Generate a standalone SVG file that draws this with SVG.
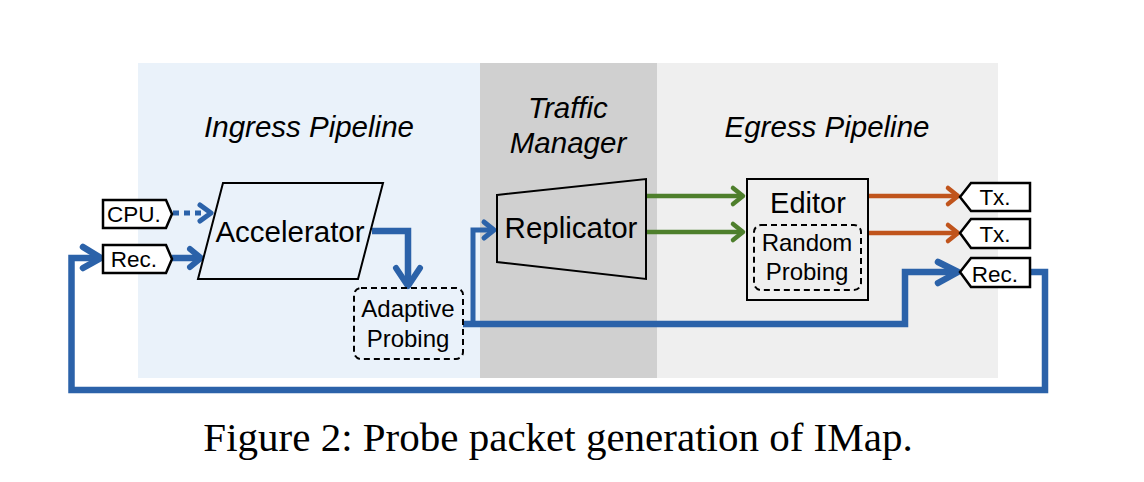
<svg xmlns="http://www.w3.org/2000/svg" width="1144" height="482" viewBox="0 0 1144 482">
<style>
.t{font-family:"Liberation Sans",Arial,sans-serif;fill:#000;text-anchor:middle}
.ti{font-family:"Liberation Sans",Arial,sans-serif;font-style:italic;fill:#000;text-anchor:middle;font-size:29.5px}
.lbl{fill:#fff;stroke:#000;stroke-width:2.5}
.shp{fill:none;stroke:#000;stroke-width:2}
.dsh{fill:none;stroke:#000;stroke-width:2;stroke-dasharray:6 4}
.bl{fill:none;stroke:#2b62a9;stroke-width:6.5;stroke-linejoin:miter}
.ah{fill:none;stroke-linecap:round;stroke-linejoin:round}
.gr{fill:none;stroke:#4e7f2c;stroke-width:4.5}
.or{fill:none;stroke:#c0541c;stroke-width:4.5}
</style>
<rect width="1144" height="482" fill="#fff"/>
<g id="regions">
<rect x="138" y="63" width="342" height="315" fill="#eaf2fa"/>
<rect x="480" y="63" width="177" height="315" fill="#d0d0d0"/>
<rect x="657" y="63" width="341" height="315" fill="#efefef"/>
<text class="ti" x="309" y="137">Ingress Pipeline</text>
<text class="ti" x="568" y="118">Traffic</text>
<text class="ti" x="568" y="153">Manager</text>
<text class="ti" x="827" y="137">Egress Pipeline</text>
</g>
<g id="connectors">
<line x1="173" y1="213" x2="204" y2="213" stroke="#2b62a9" stroke-width="5" stroke-dasharray="6 5"/>
<polyline class="ah" stroke="#2b62a9" stroke-width="5" points="200,205 211,213 200,221"/>
<line x1="172" y1="258" x2="199" y2="258" stroke="#2b62a9" stroke-width="6.5"/>
<polyline class="ah" stroke="#2b62a9" stroke-width="6" points="190,249 201,258 190,267"/>
<polyline class="bl" points="372,231 408,231 408,283"/>
<polyline class="ah" stroke="#2b62a9" stroke-width="6" points="396,268 408,286 420,268"/>
<polyline class="bl" points="463,324 905,324 905,272 956,272"/>
<polyline class="ah" stroke="#2b62a9" stroke-width="6.5" points="938,262 958,272 938,283"/>
<polyline fill="none" stroke="#2b62a9" stroke-width="5" points="473,324 473,230 492,230"/>
<polyline class="ah" stroke="#2b62a9" stroke-width="5" points="484,222 494,230 484,238"/>
<polyline class="bl" points="1030,272 1045,272 1045,390 71.5,390 71.5,258 99,258"/>
<polyline class="ah" stroke="#2b62a9" stroke-width="6.5" points="83,247 101,258 83,268"/>
<line class="gr" x1="646" y1="196" x2="741" y2="196"/>
<polyline class="ah" stroke="#4e7f2c" stroke-width="4.5" points="733,188 743,196 733,204"/>
<line class="gr" x1="646" y1="232" x2="741" y2="232"/>
<polyline class="ah" stroke="#4e7f2c" stroke-width="4.5" points="733,224 743,232 733,240"/>
<line class="or" x1="868" y1="196" x2="956" y2="196"/>
<polyline class="ah" stroke="#c0541c" stroke-width="4.5" points="948,188 958,196 948,204"/>
<line class="or" x1="868" y1="233" x2="956" y2="233"/>
<polyline class="ah" stroke="#c0541c" stroke-width="4.5" points="948,225 958,233 948,241"/>
</g>
<g id="cpu">
<polygon class="lbl" points="103,200 166,200 172,214 166,228 103,228"/>
<text class="t" x="134" y="222" font-size="22.5">CPU.</text>
</g>
<g id="rec-in">
<polygon class="lbl" points="103,245 166,245 172,259 166,273 103,273"/>
<text class="t" x="134" y="267" font-size="22.5">Rec.</text>
</g>
<g id="accelerator">
<polygon class="shp" points="223,183 383,183 358,279 198,279"/>
<text class="t" x="290" y="242" font-size="29.5">Accelerator</text>
</g>
<g id="adaptive">
<rect class="dsh" x="354" y="288" width="109" height="71" rx="7"/>
<text class="t" x="408" y="317" font-size="24">Adaptive</text>
<text class="t" x="408" y="347" font-size="24">Probing</text>
</g>
<g id="replicator">
<polygon class="shp" points="497,195 646,179 646,279 497,262"/>
<text class="t" x="571" y="238" font-size="29.5">Replicator</text>
</g>
<g id="editor">
<rect class="shp" x="747" y="179" width="121" height="121" stroke-width="2.5"/>
<text class="t" x="808" y="213" font-size="29">Editor</text>
</g>
<g id="random">
<rect class="dsh" x="754" y="225" width="107" height="65" rx="7"/>
<text class="t" x="807" y="251" font-size="24">Random</text>
<text class="t" x="807" y="280" font-size="24">Probing</text>
</g>
<g id="tx1">
<polygon class="lbl" points="960,197 971,183 1030,183 1030,211 971,211"/>
<text class="t" x="995" y="205" font-size="22.5">Tx.</text>
</g>
<g id="tx2">
<polygon class="lbl" points="960,233 971,219 1030,219 1030,248 971,248"/>
<text class="t" x="995" y="242" font-size="22.5">Tx.</text>
</g>
<g id="rec-out">
<polygon class="lbl" points="960,272 971,258 1030,258 1030,287 971,287"/>
<text class="t" x="995" y="282" font-size="22.5">Rec.</text>
</g>
<text x="558" y="451" font-family="'Liberation Serif','Times New Roman',serif" font-size="41" text-anchor="middle" fill="#000">Figure 2: Probe packet generation of IMap.</text>
</svg>
